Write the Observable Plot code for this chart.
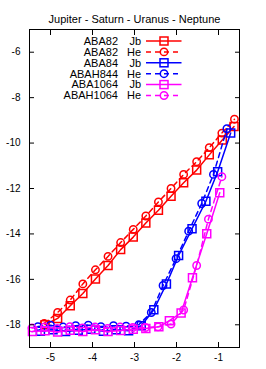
<!DOCTYPE html>
<html><head><meta charset="utf-8">
<script src="https://cdn.jsdelivr.net/npm/d3@7"></script>
<script src="https://cdn.jsdelivr.net/npm/@observablehq/plot@0.6"></script>
<style>body{margin:0;background:#fff} svg{font-family:"Liberation Sans",Arial,sans-serif}</style>
</head><body><div id="chart"></div>
<script>
const title = "Jupiter - Saturn - Uranus - Neptune";
const xTicks = [-5, -4, -3, -2, -1];
const yTicks = [-18, -16, -14, -12, -10, -8, -6];

const names = ["ABA82", "ABA82", "ABA84", "ABAH844", "ABA1064", "ABAH1064"];
const kinds = ["Jb", "He", "Jb", "He", "Jb", "He"];
const colors = ["#ff0000", "#ff0000", "#0000ff", "#0000ff", "#ff00ff", "#ff00ff"];

const x82Jb = [-5.13,-4.83,-4.53,-4.23,-3.93,-3.63,-3.33,-3.03,-2.73,-2.43,-2.13,-1.83,-1.52,-1.22,-0.91,-0.63];
const y82Jb = [-18.0,-17.72,-17.16,-16.62,-15.98,-15.39,-14.69,-14.14,-13.52,-12.96,-12.34,-11.75,-11.19,-10.52,-9.86,-9.27];
const x82He = [-5.15,-4.83,-4.53,-4.23,-3.93,-3.63,-3.33,-3.03,-2.73,-2.43,-2.13,-1.83,-1.52,-1.22,-0.92,-0.62];
const y82He = [-17.94,-17.46,-16.91,-16.2,-15.58,-14.99,-14.38,-13.8,-13.21,-12.59,-12.0,-11.38,-10.82,-10.2,-9.56,-8.95];
const x84Jb = [-5.24,-4.94,-4.64,-4.34,-4.04,-3.74,-3.44,-3.14,-2.84,-2.54,-2.24,-1.95,-1.63,-1.30,-1.02,-0.71];
const y84Jb = [-18.28,-18.22,-18.3,-18.24,-18.2,-18.28,-18.22,-18.26,-18.04,-17.34,-16.2,-14.95,-13.77,-12.56,-11.26,-9.56];
const x84He = [-5.3,-5.0,-4.7,-4.4,-4.1,-3.8,-3.5,-3.2,-2.9,-2.6,-2.32,-2.01,-1.71,-1.4,-1.12,-0.8];
const y84He = [-18.08,-18.02,-18.1,-18.04,-18.02,-18.08,-18.04,-18.06,-18.0,-17.46,-16.27,-15.09,-13.88,-12.66,-11.38,-9.37];
const x1064Jb = [-5.43,-5.13,-4.83,-4.53,-4.23,-3.93,-3.63,-3.33,-3.03,-2.73,-2.42,-2.17,-1.89,-1.62,-1.28,-0.97];
const y1064Jb = [-18.3,-18.26,-18.32,-18.24,-18.3,-18.22,-18.3,-18.25,-18.2,-18.16,-18.09,-17.82,-17.48,-15.93,-13.99,-12.19];
const x1064He = [-5.44,-5.14,-4.84,-4.54,-4.24,-3.94,-3.64,-3.34,-3.04,-2.74,-2.44,-2.13,-1.83,-1.52,-1.24,-0.92];
const y1064He = [-18.14,-18.1,-18.16,-18.08,-18.14,-18.1,-18.16,-18.1,-18.12,-18.12,-18.09,-17.97,-17.35,-15.39,-13.35,-11.48];

const xs = [x82Jb, x82He, x84Jb, x84He, x1064Jb, x1064He];
const ys = [y82Jb, y82He, y84Jb, y84He, y1064Jb, y1064He];

const marks = [];
xs.forEach((xv, s) => {
  const data = xv.map((x, i) => ({x, y: ys[s][i]}));
  const dashed = kinds[s] === "He";
  marks.push(Plot.line(data, {x: "x", y: "y", stroke: colors[s], strokeWidth: 1.5, strokeDasharray: dashed ? "5,4" : null}));
  marks.push(Plot.dot(data, {x: "x", y: "y", stroke: colors[s], strokeWidth: 1.5, fill: "none",
    symbol: dashed ? "circle" : "square", r: dashed ? 3.7 : 4.5}));
});

const fmt = d => String(d);

const chart = Plot.plot({
  width: 266, height: 369,
  marginLeft: 29, marginRight: 27, marginTop: 29, marginBottom: 22,
  style: {fontFamily: '"Liberation Sans", Arial, sans-serif', background: "#fff"},
  x: {domain: [-5.5, -0.5]},
  y: {domain: [-19, -5]},
  marks: [
    ...marks,
    Plot.frame({stroke: "black", strokeWidth: 1}),
    Plot.axisX({anchor: "bottom", ticks: xTicks, tickSize: -5, text: null, label: null}),
    Plot.axisX({anchor: "top", ticks: xTicks, tickSize: -5, text: null, label: null}),
    Plot.axisY({anchor: "left", ticks: yTicks, tickSize: -5, text: null, label: null}),
    Plot.axisY({anchor: "right", ticks: yTicks, tickSize: -5, text: null, label: null}),
    Plot.axisX({anchor: "bottom", ticks: xTicks, tickFormat: fmt, tickSize: 0, tickPadding: 6, label: null, fontSize: 10}),
    Plot.axisY({anchor: "left", ticks: yTicks, tickFormat: fmt, tickSize: 0, tickPadding: 9, label: null, fontSize: 10}),
    Plot.text([title], {frameAnchor: "top", dy: -14, fontSize: 11, text: d => d})
  ]
});
document.getElementById("chart").appendChild(chart);

// legend
const svg = d3.select(chart);
const lg = svg.append("g").attr("font-size", 11).attr("font-family", '"Liberation Sans", Arial, sans-serif');
names.forEach((n, i) => {
  const cy = 41 + i * 10.9;
  lg.append("text").attr("x", 118).attr("y", cy).attr("dy", "0.35em").attr("text-anchor", "end").text(n);
  lg.append("text").attr("x", 141).attr("y", cy).attr("dy", "0.35em").attr("text-anchor", "end").text(kinds[i]);
  lg.append("line").attr("x1", 146).attr("x2", 181.5).attr("y1", cy).attr("y2", cy)
    .attr("stroke", colors[i]).attr("stroke-width", 1.5)
    .attr("stroke-dasharray", kinds[i] === "He" ? "5,4" : null);
  if (kinds[i] === "He") {
    lg.append("circle").attr("cx", 164).attr("cy", cy).attr("r", 3.7).attr("fill", "none").attr("stroke", colors[i]).attr("stroke-width", 1.5);
  } else {
    lg.append("rect").attr("x", 160).attr("y", cy - 4).attr("width", 8).attr("height", 8).attr("fill", "none").attr("stroke", colors[i]).attr("stroke-width", 1.5);
  }
});
</script></body></html>
